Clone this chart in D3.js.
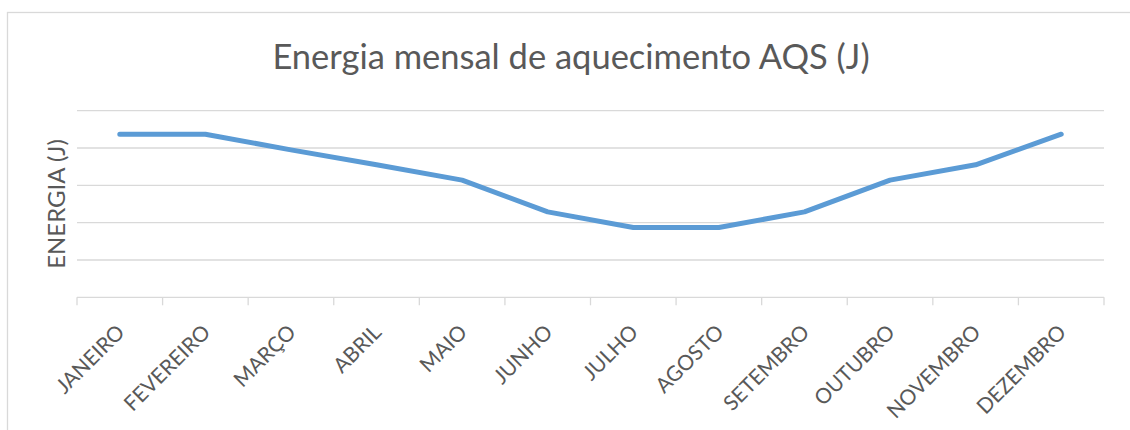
<!DOCTYPE html>
<html>
<head>
<meta charset="utf-8">
<script src="https://cdn.jsdelivr.net/npm/d3@7"></script>
<style>
  html, body { margin: 0; padding: 0; background: #fff; }
  svg { display: block; }
  text { font-family: Lato, "Open Sans", sans-serif; fill: #595959; }
</style>
</head>
<body>
<div id="chart"></div>
<script>
// values (units of one gridline step)
var months = ['JANEIRO', 'FEVEREIRO', 'MARÇO', 'ABRIL', 'MAIO', 'JUNHO',
              'JULHO', 'AGOSTO', 'SETEMBRO', 'OUTUBRO', 'NOVEMBRO', 'DEZEMBRO'];
var energy = [4.37, 4.37, 3.95, 3.55, 3.14, 2.29, 1.87, 1.87, 2.29, 3.14, 3.55, 4.37];
var yTicks = [0, 1, 2, 3, 4, 5];

var title = 'Energia mensal de aquecimento AQS (J)';
var yTitle = 'ENERGIA (J)';

var width = 1130, height = 430;
var plot = { left: 77, right: 1104, top: 110.7, bottom: 297.3 };

var svg = d3.select('#chart').append('svg')
    .attr('width', width)
    .attr('height', height);

// chart area border (runs off the right and bottom edges)
svg.append('rect')
    .attr('x', 7.5).attr('y', 12.5)
    .attr('width', 1200).attr('height', 500)
    .attr('fill', '#fff')
    .attr('stroke', '#d9d9d9')
    .attr('stroke-width', 1.3);

var x = d3.scaleBand()
    .domain(months)
    .range([plot.left, plot.right])
    .padding(0);

var y = d3.scaleLinear()
    .domain([0, 5])
    .range([plot.bottom, plot.top]);

// gridlines
svg.append('g').selectAll('line')
    .data(yTicks)
    .enter().append('line')
    .attr('x1', plot.left).attr('x2', plot.right)
    .attr('y1', d => y(d)).attr('y2', d => y(d))
    .attr('stroke', '#d9d9d9')
    .attr('stroke-width', 1.3);

// category tick marks at band edges
var edges = months.map(m => x(m)).concat([plot.right]);
svg.append('g').selectAll('line')
    .data(edges)
    .enter().append('line')
    .attr('x1', d => d).attr('x2', d => d)
    .attr('y1', plot.bottom).attr('y2', plot.bottom + 8)
    .attr('stroke', '#d9d9d9')
    .attr('stroke-width', 1.3);

// month labels
svg.append('g').selectAll('text')
    .data(months)
    .enter().append('text')
    .attr('transform', d => 'translate(' + (x(d) + x.bandwidth() / 2 + 1) + ',' + (plot.bottom + 31) + ') rotate(-45)')
    .attr('text-anchor', 'end')
    .attr('dy', '0.35em')
    .style('font-size', '21px')
    .text(d => d);

// line
var line = d3.line()
    .x((d, i) => x(months[i]) + x.bandwidth() / 2)
    .y(d => y(d));

svg.append('path')
    .datum(energy)
    .attr('d', line)
    .attr('fill', 'none')
    .attr('stroke', '#5b9bd5')
    .attr('stroke-width', 5)
    .attr('stroke-linecap', 'round')
    .attr('stroke-linejoin', 'round');

// title
svg.append('text')
    .attr('x', 571).attr('y', 69)
    .attr('text-anchor', 'middle')
    .style('font-size', '34.5px')
    .text(title);

// y axis title
svg.append('text')
    .attr('transform', 'translate(57,' + ((plot.top + plot.bottom) / 2) + ') rotate(-90)')
    .attr('text-anchor', 'middle')
    .attr('dy', '0.35em')
    .style('font-size', '24px')
    .text(yTitle);
</script>
</body>
</html>
